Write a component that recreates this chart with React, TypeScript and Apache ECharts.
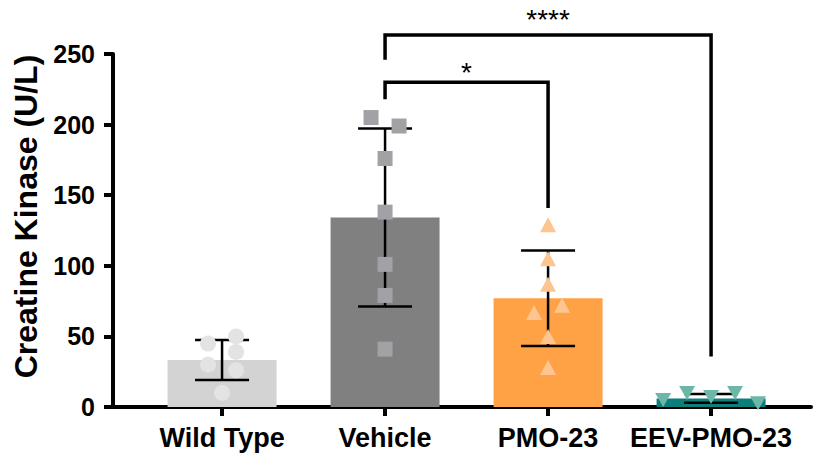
import React, { useEffect, useRef } from "react";
import * as echarts from "echarts";

// ---- data ----
const categories = ["Wild Type", "Vehicle", "PMO-23", "EEV-PMO-23"];
const yTicks = [0, 50, 100, 150, 200, 250];
const means = [33.3, 134.2, 77, 6.1];
const sds = [14.2, 63, 33.8, 3.1];

// individual animals: [jitter offset within the category, value]
const wildTypePoints = [[-0.086, 45], [0.086, 50], [0.086, 39], [-0.086, 30], [0.086, 26], [0, 10]];
const vehiclePoints = [[-0.086, 205], [0.086, 199], [0, 176], [0, 138], [0, 101], [0, 79], [0, 41]];
const pmoPoints = [[0, 129], [0, 105], [0, 87], [0.086, 72], [-0.086, 67], [0, 50], [0, 28]];
const eevPoints = [[-0.294, 5], [-0.147, 10], [0, 7], [0.147, 10], [0.288, 2.6]];
const groupPoints = [wildTypePoints, vehiclePoints, pmoPoints, eevPoints];

// significance brackets
const bracketFrom = [1, 1];
const bracketTo = [3, 2];
const bracketTop = [263.5, 230];
const bracketLeftEnd = [246, 218];
const bracketRightEnd = [35.7, 141];
const bracketLabels = ["****", "*"];

// ---- styles ----
const barColors = ["#d3d3d3", "#808080", "#ffa245", "#0d7f7b"];
const pointColors = ["#e3e3e3", "#a1a1a6", "#ffc590", "#6db7a9"];
const pointSymbols = ["circle", "rect", "triangle", "triangle"];
const pointRotate = [0, 0, 0, 180];
const pointSizes = [16, 15, [16, 15], [16, 14]];
const bracketLabelGap = [15, 10];
const FONT = "'Liberation Sans', Arial, Helvetica, sans-serif";

export default function App() {
  const ref = useRef<HTMLDivElement>(null);

  useEffect(() => {
    if (!ref.current) return;
    const chart = echarts.init(ref.current, null, { renderer: "svg" });

    const scatterSeries = groupPoints.map((pts, gi) => ({
      type: "scatter",
      z: 4,
      symbol: pointSymbols[gi],
      symbolRotate: pointRotate[gi],
      symbolSize: pointSizes[gi],
      itemStyle: { color: pointColors[gi], opacity: 1 },
      data: pts.map((p) => [gi + p[0], p[1]]),
    }));

    const option: any = {
      animation: false,
      backgroundColor: "#ffffff",
      grid: { left: 113, right: 4, top: 54, bottom: 46, containLabel: false },
      xAxis: {
        type: "value",
        min: -0.669,
        max: 3.613,
        splitLine: { show: false },
        axisLine: { show: true, onZero: false, lineStyle: { color: "#000", width: 4 } },
        axisTick: {
          show: true,
          customValues: [0, 1, 2, 3],
          length: 9,
          lineStyle: { color: "#000", width: 4 },
        },
        axisLabel: {
          show: true,
          customValues: [0, 1, 2, 3],
          formatter: (v: number) => categories[Math.round(v)] ?? "",
          margin: 17,
          color: "#000",
          fontFamily: FONT,
          fontWeight: "bold",
          fontSize: 27,
        },
      },
      yAxis: {
        type: "value",
        min: 0,
        max: 250,
        interval: 50,
        name: "Creatine Kinase (U/L)",
        nameLocation: "middle",
        nameRotate: 90,
        nameGap: 70,
        nameTextStyle: {
          color: "#000",
          fontFamily: FONT,
          fontWeight: "bold",
          fontSize: 32,
          padding: [0, 0, 0, 28],
        },
        splitLine: { show: false },
        axisLine: { show: true, onZero: false, lineStyle: { color: "#000", width: 4 } },
        axisTick: { show: true, length: 9, lineStyle: { color: "#000", width: 4 } },
        axisLabel: {
          margin: 18,
          color: "#000",
          fontFamily: FONT,
          fontWeight: "bold",
          fontSize: 25,
          formatter: (v: number) => (yTicks.includes(v) ? String(v) : ""),
        },
      },
      series: [
        {
          type: "bar",
          z: 2,
          barWidth: 109,
          data: means.map((m, i) => ({ value: [i, m], itemStyle: { color: barColors[i] } })),
        },
        {
          type: "custom",
          z: 3,
          clip: false,
          encode: { x: 0, y: 1 },
          data: means.map((m, i) => [i, m, sds[i]]),
          renderItem: (params: any, api: any) => {
            const x = api.value(0);
            const m = api.value(1);
            const s = api.value(2);
            const top = api.coord([x, m + s]);
            const bot = api.coord([x, m - s]);
            const cap = 27;
            const st = { stroke: "#000", lineWidth: 2.5 };
            return {
              type: "group",
              children: [
                { type: "line", shape: { x1: top[0], y1: top[1], x2: bot[0], y2: bot[1] }, style: st },
                { type: "line", shape: { x1: top[0] - cap, y1: top[1], x2: top[0] + cap, y2: top[1] }, style: st },
                { type: "line", shape: { x1: bot[0] - cap, y1: bot[1], x2: bot[0] + cap, y2: bot[1] }, style: st },
              ],
            };
          },
        },
        ...scatterSeries,
        {
          type: "custom",
          z: 5,
          clip: false,
          encode: { x: [0, 1], y: [2, 3, 4] },
          data: bracketFrom.map((f, i) => [f, bracketTo[i], bracketTop[i], bracketLeftEnd[i], bracketRightEnd[i]]),
          renderItem: (params: any, api: any) => {
            const i = params.dataIndex;
            const x1 = api.value(0);
            const x2 = api.value(1);
            const a = api.coord([x1, api.value(2)]);
            const b = api.coord([x2, api.value(2)]);
            const la = api.coord([x1, api.value(3)]);
            const rb = api.coord([x2, api.value(4)]);
            return {
              type: "group",
              children: [
                {
                  type: "polyline",
                  shape: { points: [la, a, b, rb] },
                  style: { stroke: "#000", lineWidth: 3.5, fill: "none" },
                },
                {
                  type: "text",
                  x: (a[0] + b[0]) / 2,
                  y: a[1] - bracketLabelGap[i],
                  style: {
                    text: bracketLabels[i],
                    fontFamily: FONT,
                    fontSize: 28,
                    fill: "#000",
                    align: "center",
                    verticalAlign: "middle",
                  },
                },
              ],
            };
          },
        },
      ],
    };

    chart.setOption(option);
    return () => chart.dispose();
  }, []);

  return (
    <div
      ref={ref}
      style={{ position: "fixed", left: 0, top: 0, width: 815, height: 453, background: "#fff" }}
    />
  );
}
